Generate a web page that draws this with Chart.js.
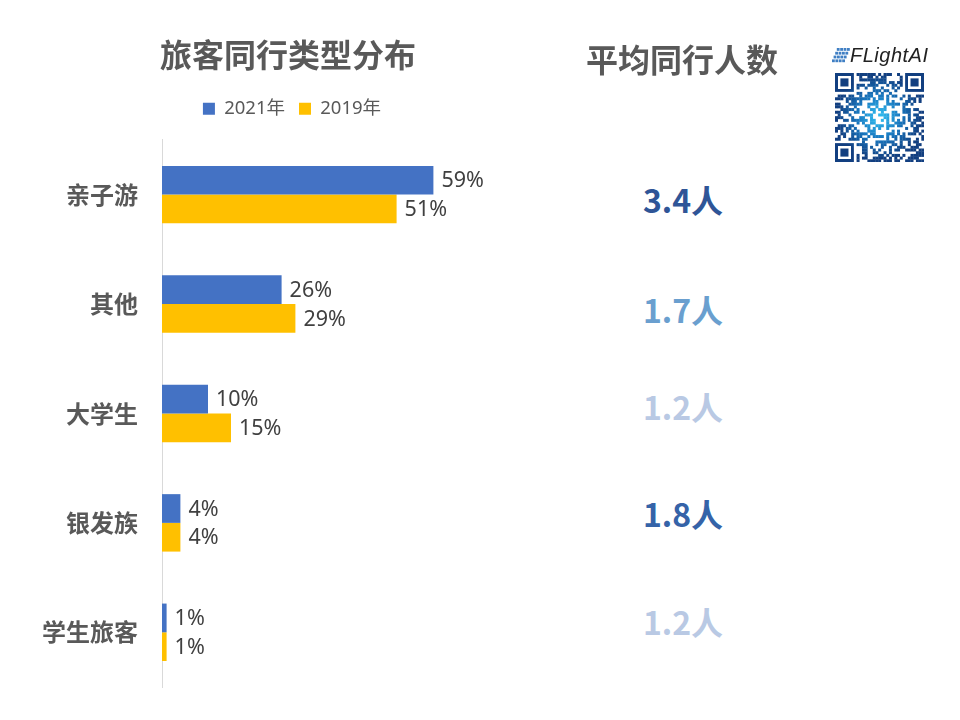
<!DOCTYPE html>
<html lang="zh">
<head>
<meta charset="utf-8">
<title>旅客同行类型分布</title>
<script src="https://cdn.jsdelivr.net/npm/chart.js@4"></script>
<style>
  html, body { margin: 0; padding: 0; background: #fff; }
  body { width: 960px; height: 720px; position: relative; overflow: hidden; font-family: "Noto Sans CJK SC", sans-serif; }
  #chart { position: absolute; left: 0; top: 0; }
  .abs { position: absolute; white-space: nowrap; }
  #avgTitle { left: 482px; width: 400px; text-align: center; top: 36px; font-size: 32px; line-height: 44px; font-weight: 700; color: #595959; }
  .avg { left: 583px; width: 200px; text-align: center; font-size: 32px; line-height: 40px; font-weight: 700; }
  #brand { left: 850px; top: 44px; font: italic 400 20px/22px "Liberation Sans", sans-serif; letter-spacing: 0.5px; color: #222; }
  #brandIcon { position: absolute; left: 831px; top: 47px; }
  #qr { position: absolute; left: 835px; top: 73px; }
</style>
</head>
<body>
<canvas id="chart" width="576" height="720"></canvas>
<div id="avgTitle" class="abs">平均同行人数</div>
<div id="brand" class="abs">FLightAI</div>
<canvas id="brandIcon" width="19" height="18"></canvas>
<canvas id="qr" width="89" height="89"></canvas>
<script>
// Data
const categories = ['亲子游', '其他', '大学生', '银发族', '学生旅客'];
const values2021 = [59, 26, 10, 4, 1];
const values2019 = [51, 29, 15, 4, 1];
const avgLabels = ['3.4人', '1.7人', '1.2人', '1.8人', '1.2人'];
const avgColors = ['#2F5597', '#6A9FCF', '#B9C9E4', '#3563A8', '#B9C9E4'];
const avgCenters = [199, 309, 406, 513, 621];

// Right column
avgLabels.forEach((label, i) => {
  const el = document.createElement('div');
  el.className = 'abs avg';
  el.textContent = label;
  el.style.color = avgColors[i];
  el.style.top = (avgCenters[i] - 20) + 'px';
  document.body.appendChild(el);
});

// Value labels next to each bar
const barLabels = {
  id: 'barLabels',
  afterDatasetsDraw(chart) {
    const ctx = chart.ctx;
    ctx.save();
    ctx.font = '400 21.5px "Noto Sans", "Noto Sans CJK SC"';
    ctx.fillStyle = '#404040';
    ctx.textBaseline = 'middle';
    chart.data.datasets.forEach((ds, d) => {
      chart.getDatasetMeta(d).data.forEach((bar, i) => {
        ctx.fillText(ds.data[i] + '%', bar.x + 8, bar.y + 1);
      });
    });
    ctx.restore();
  }
};

// Legend sits closer to the title and a little right of it
const nudgeLegend = {
  id: 'nudgeLegend',
  afterLayout(chart) {
    chart.legend.top -= 12;
    chart.legend.bottom -= 12;
    chart.legend.left += 8;
  }
};

new Chart(document.getElementById('chart'), {
  type: 'bar',
  plugins: [barLabels, nudgeLegend],
  data: {
    labels: categories,
    datasets: [
      { label: '2021年', data: values2021, backgroundColor: '#4472C4' },
      { label: '2019年', data: values2019, backgroundColor: '#FFC000' }
    ]
  },
  options: {
    indexAxis: 'y',
    responsive: false,
    animation: false,
    layout: { padding: { top: 36, bottom: 33 } },
    datasets: { bar: { categoryPercentage: 0.525, barPercentage: 1 } },
    plugins: {
      tooltip: { enabled: false },
      title: {
        display: true,
        text: '旅客同行类型分布',
        color: '#595959',
        font: { family: '"Noto Sans CJK SC"', size: 32, weight: '700' },
        padding: { top: 0, bottom: 23 }
      },
      legend: {
        position: 'top',
        labels: {
          color: '#595959',
          font: { family: '"Noto Sans", "Noto Sans CJK SC"', size: 18.5 },
          boxWidth: 12,
          boxHeight: 12,
          padding: 14
        }
      }
    },
    scales: {
      x: { display: false, min: 0, max: 90 },
      y: {
        afterFit(scale) { scale.width = 162; },
        border: { color: '#D9D9D9', width: 1 },
        grid: { display: false },
        ticks: {
          color: '#595959',
          padding: 16,
          font: { family: '"Noto Sans CJK SC"', size: 24, weight: '700' }
        }
      }
    }
  }
});

// FlightAI logo mark
const iconCtx = document.getElementById('brandIcon').getContext('2d');
iconCtx.fillStyle = '#3F7FC4';
for (let r = 0; r < 4; r++) {
  for (let c = 0; c < 4; c++) {
    iconCtx.fillRect(1 + (3 - r) * 1.6 + c * 3.4, 1 + r * 3.8, 2.8, 2.8);
  }
}

// QR code style decoration, navy at the rim and bright blue in the middle
const qrCtx = document.getElementById('qr').getContext('2d');
const grad = qrCtx.createRadialGradient(44, 44, 4, 44, 44, 42);
grad.addColorStop(0, '#2FB5EA');
grad.addColorStop(0.45, '#1878C0');
grad.addColorStop(1, '#123F80');
qrCtx.fillStyle = grad;
const qrSize = 33, cell = 89 / qrSize;
let seed = 0x5A7C;
function nextBit() {
  const b = ((seed >> 0) ^ (seed >> 2) ^ (seed >> 3) ^ (seed >> 5)) & 1;
  seed = (seed >> 1) | (b << 15);
  return b;
}
function inFinder(r, c) {
  return (r < 8 && c < 8) || (r < 8 && c >= qrSize - 8) || (r >= qrSize - 8 && c < 8);
}
for (let r = 0; r < qrSize; r++) {
  for (let c = 0; c < qrSize; c++) {
    if (!inFinder(r, c) && nextBit()) qrCtx.fillRect(c * cell, r * cell, cell + 0.3, cell + 0.3);
  }
}
[[0, 0], [0, qrSize - 7], [qrSize - 7, 0]].forEach(([r, c]) => {
  qrCtx.fillRect(c * cell, r * cell, 7 * cell, 7 * cell);
  qrCtx.clearRect((c + 1) * cell, (r + 1) * cell, 5 * cell, 5 * cell);
  qrCtx.fillRect((c + 2) * cell, (r + 2) * cell, 3 * cell, 3 * cell);
});
</script>
</body>
</html>
